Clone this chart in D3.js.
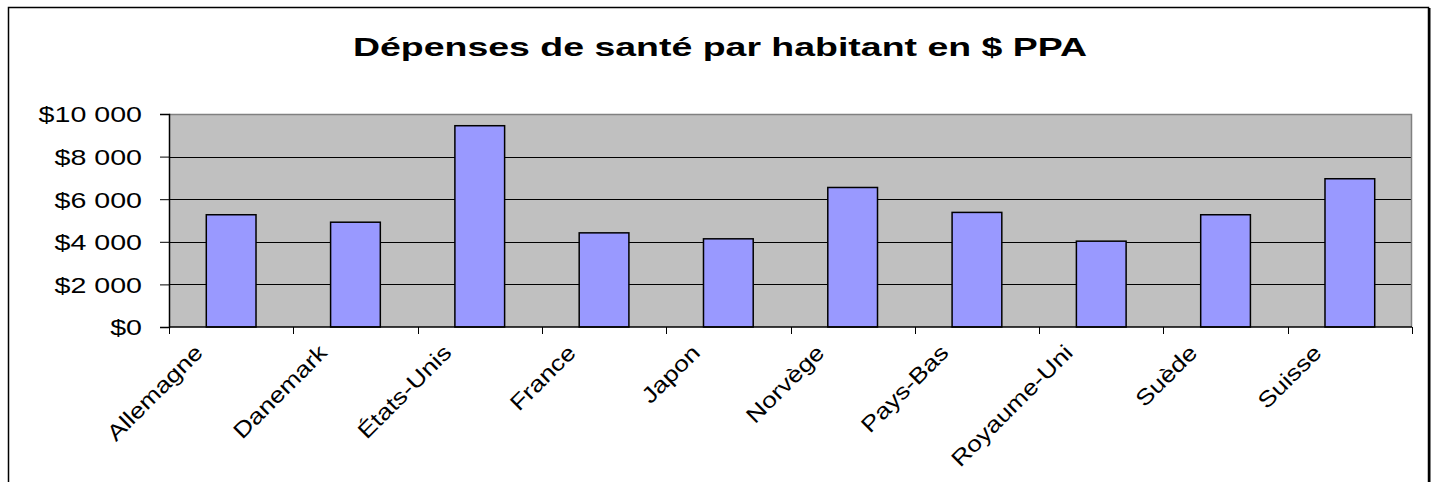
<!DOCTYPE html>
<html>
<head>
<meta charset="utf-8">
<script src="https://cdn.jsdelivr.net/npm/d3@7"></script>
<style>
  body { margin: 0; background: #fff; }
  text { font-family: Arial, "Liberation Sans", sans-serif; fill: #000; }
</style>
</head>
<body>
<svg id="chart" width="1437" height="482"></svg>
<script>
// data
const countries = ["Allemagne", "Danemark", "États-Unis", "France", "Japon",
                   "Norvège", "Pays-Bas", "Royaume-Uni", "Suède", "Suisse"];
const depenses = [5270, 4920, 9450, 4420, 4140, 6550, 5380, 4030, 5270, 6960];
const yTicks = [0, 2000, 4000, 6000, 8000, 10000];
const chartTitle = "Dépenses de santé par habitant en $ PPA";

var svg = d3.select("#chart"),
    plot = { left: 169, right: 1412, top: 114, bottom: 327 },
    stretch = 1.3; // text in the original is drawn wider than Arial

// outer chart frame
svg.append("rect")
    .attr("x", 8.5).attr("y", 7.5)
    .attr("width", 1420).attr("height", 500)
    .attr("fill", "white")
    .attr("stroke", "black")
    .attr("stroke-width", 1.5);
svg.append("line")
    .attr("x1", 1429.5).attr("x2", 1429.5)
    .attr("y1", 8).attr("y2", 482)
    .attr("stroke", "black").attr("stroke-width", 2);

var x = d3.scaleBand()
    .domain(countries)
    .range([plot.left, plot.right]);

var y = d3.scaleLinear()
    .domain([0, 10000])
    .range([plot.bottom, plot.top]);

// plot area
svg.append("rect")
    .attr("x", plot.left).attr("y", plot.top)
    .attr("width", plot.right - plot.left)
    .attr("height", plot.bottom - plot.top)
    .attr("fill", "#c0c0c0");

// gridlines
svg.append("g")
    .selectAll("line")
    .data(yTicks.filter(d => d > 0 && d < 10000))
    .enter().append("line")
    .attr("x1", plot.left).attr("x2", plot.right)
    .attr("y1", d => Math.round(y(d)) + 0.5)
    .attr("y2", d => Math.round(y(d)) + 0.5)
    .attr("stroke", "#000")
    .attr("stroke-width", 1);

// top and right border of plot area
svg.append("path")
    .attr("d", `M${plot.left},${plot.top + 0.5}H${plot.right - 0.5}V${plot.bottom}`)
    .attr("fill", "none")
    .attr("stroke", "#808080")
    .attr("stroke-width", 1.5);

// bars (gap width 150%)
var bw = x.step() / 2.5;
svg.append("g")
    .selectAll("rect")
    .data(countries)
    .enter().append("rect")
    .attr("x", d => x(d) + (x.step() - bw) / 2)
    .attr("y", (d, i) => y(depenses[i]))
    .attr("width", bw)
    .attr("height", (d, i) => y(0) - y(depenses[i]))
    .attr("fill", "#9999ff")
    .attr("stroke", "#000")
    .attr("stroke-width", 1.5);

// y axis
var yAxis = svg.append("g")
    .attr("transform", `translate(${plot.left},0)`)
    .call(d3.axisLeft(y).tickValues(yTicks).tickSize(9).tickPadding(18)
        .tickFormat(d => "$" + d3.format(",")(d).replace(/,/g, " ")));
yAxis.select(".domain").attr("stroke", "#000").attr("stroke-width", 1.5);
yAxis.selectAll(".tick line").attr("stroke", "#000");
yAxis.selectAll("text")
    .attr("font-size", 22)
    .attr("font-family", "Arial, 'Liberation Sans', sans-serif")
    .attr("dy", "0.36em")
    .attr("fill", "#000")
    .each(function () {
        var l = this.getComputedTextLength();
        d3.select(this).attr("textLength", l * stretch).attr("lengthAdjust", "spacingAndGlyphs");
    });

// x axis (ticks at category boundaries)
var bounds = countries.map(d => x(d)).concat([plot.right]);
svg.append("line")
    .attr("x1", plot.left).attr("x2", plot.right)
    .attr("y1", plot.bottom).attr("y2", plot.bottom)
    .attr("stroke", "#000").attr("stroke-width", 1.5);
svg.append("g")
    .selectAll("line")
    .data(bounds)
    .enter().append("line")
    .attr("x1", d => Math.round(d) + 0.5).attr("x2", d => Math.round(d) + 0.5)
    .attr("y1", plot.bottom).attr("y2", plot.bottom + 7)
    .attr("stroke", "#000");

svg.append("g")
    .selectAll("text")
    .data(countries)
    .enter().append("text")
    .attr("transform", d => `translate(${x(d) + x.bandwidth() / 2 - 27},${plot.bottom + 27}) rotate(-45)`)
    .attr("text-anchor", "end")
    .attr("font-size", 22)
    .text(d => d)
    .each(function () {
        var l = this.getComputedTextLength();
        d3.select(this).attr("textLength", l * 1.2).attr("lengthAdjust", "spacingAndGlyphs");
    });

// title
svg.append("text")
    .attr("x", 720)
    .attr("y", 56)
    .attr("text-anchor", "middle")
    .attr("font-size", 26)
    .attr("font-weight", "bold")
    .attr("textLength", 734)
    .attr("lengthAdjust", "spacingAndGlyphs")
    .text(chartTitle);
</script>
</body>
</html>
